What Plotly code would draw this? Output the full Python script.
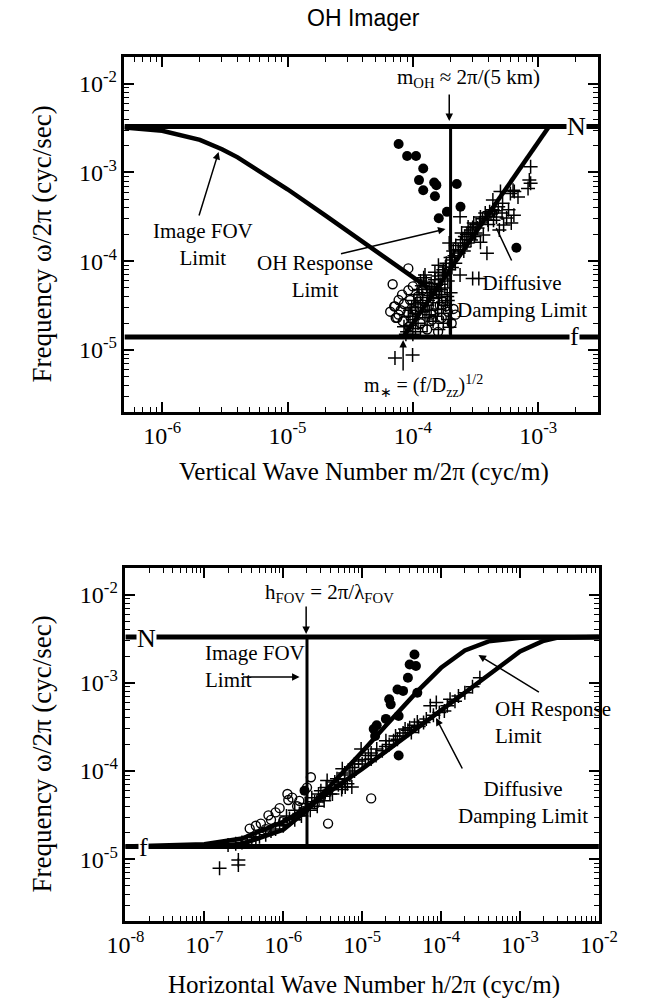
import math
import plotly.graph_objects as go

# ---------------- data ----------------
N_FREQ = 3.3e-3        # buoyancy frequency line  (cyc/s)
F_FREQ = 1.4e-5        # inertial frequency line   (cyc/s)
M_OH = 2.0e-4          # 2*pi/(5 km)
H_FOV = 2.0e-6         # 2*pi/lambda_FOV
M_STAR = 8.4e-5        # (f/Dzz)^1/2

TOP_X_RANGE = [5e-7, 3e-3]
BOT_X_RANGE = [1e-8, 1e-2]
Y_RANGE = [2e-6, 2e-2]

TOP_X_TICKS = [1e-6, 1e-5, 1e-4, 1e-3]
TOP_X_TICKTEXT = ["10<sup>-6</sup>", "10<sup>-5</sup>", "10<sup>-4</sup>", "10<sup>-3</sup>"]
BOT_X_TICKS = [1e-8, 1e-7, 1e-6, 1e-5, 1e-4, 1e-3, 1e-2]
BOT_X_TICKTEXT = ["10<sup>-8</sup>", "10<sup>-7</sup>", "10<sup>-6</sup>", "10<sup>-5</sup>",
                  "10<sup>-4</sup>", "10<sup>-3</sup>", "10<sup>-2</sup>"]
Y_TICKS = [1e-5, 1e-4, 1e-3, 1e-2]
Y_TICKTEXT = ["10<sup>-5</sup>", "10<sup>-4</sup>", "10<sup>-3</sup>", "10<sup>-2</sup>"]

# top panel: Image FOV limit curve
FOV_M = [5e-7, 1e-6, 2e-6, 3e-6, 4e-6, 6e-6, 1e-5, 2e-5, 3e-5, 5e-5, 8e-5, 1.3e-4]
FOV_W = [3.2e-3, 2.95e-3, 2.33e-3, 1.83e-3, 1.48e-3, 1.04e-3, 6.47e-4, 3.28e-4, 2.2e-4,
         1.32e-4, 8.25e-5, 5.1e-5]
# top panel: diffusive damping limit line
DIFF_M = [8.4e-5, 1.22e-3]
DIFF_W = [1.4e-5, 3.3e-3]

# top panel scatter
TOP_FILLED_M = [7.7e-5, 9.0e-5, 1.06e-4, 1.21e-4, 1.12e-4, 1.48e-4, 1.54e-4, 2.24e-4,
                1.21e-4, 1.50e-4, 2.4e-4, 1.87e-4, 1.61e-4, 6.7e-4]
TOP_FILLED_W = [2.09e-3, 1.53e-3, 1.53e-3, 1.11e-3, 8.2e-4, 7.7e-4, 7.2e-4, 7.4e-4,
                6.3e-4, 5.4e-4, 4.1e-4, 3.6e-4, 3.05e-4, 1.42e-4]

TOP_OPEN_M = [6.9e-5, 9.2e-5, 7.1e-5, 7.7e-5, 7.3e-5, 9.2e-5, 9.5e-5, 9.2e-5, 1.19e-4,
              1.50e-4, 1.64e-4, 1.83e-4, 1.34e-4, 1.03e-4, 1.59e-4, 2.04e-4, 2.19e-4,
              2.11e-4, 1.43e-4, 1.15e-4, 9.3e-5, 7.2e-5, 7.5e-5, 7.7e-5,
              8.0e-5, 8.5e-5, 8.2e-5, 1.0e-4, 1.1e-4, 1.25e-4, 1.4e-4, 1.7e-4, 1.9e-4,
              1.3e-4, 1.75e-4, 6.6e-5, 8.3e-5]
TOP_OPEN_W = [5.5e-5, 8.3e-5, 3.1e-5, 2.5e-5, 2.3e-5, 4.7e-5, 3.65e-5, 2.6e-5, 4.7e-5,
              4.35e-5, 3.2e-5, 3.1e-5, 3.1e-5, 2.8e-5, 1.6e-5, 2.0e-5, 2.5e-5,
              2.9e-5, 2.2e-5, 2.0e-5, 1.83e-5, 3.1e-5, 2.3e-5, 3.65e-5,
              2.8e-5, 3.3e-5, 4.2e-5, 5.2e-5, 4.0e-5, 3.0e-5, 2.5e-5, 2.3e-5, 2.7e-5,
              1.7e-5, 3.5e-5, 2.7e-5, 2.1e-5]

TOP_CROSS_M = [8.7e-4, 8.5e-4, 8.7e-4, 8.3e-4, 6.3e-4, 6.9e-4, 6.45e-4, 5.0e-4, 2.38e-4,
               3.9e-4, 3.0e-4, 3.36e-4, 2.38e-4, 2.18e-4, 1.95e-4, 2.45e-4, 2.76e-4,
               3.06e-4, 3.46e-4, 3.78e-4, 4.1e-4, 4.34e-4, 3.17e-4, 2.91e-4, 2.58e-4,
               2.32e-4, 2.06e-4, 1.82e-4, 1.73e-4, 1.95e-4, 3.28e-4, 3.65e-4, 3.97e-4,
               4.65e-4, 3.46e-4, 5.15e-4, 5.6e-4, 6.1e-4, 5.3e-4, 4.9e-4, 5.8e-4, 6.4e-4,
               4.8e-4, 5.2e-4, 4.35e-4, 6.0e-4,
               9.0e-5, 9.5e-5, 1.0e-4, 1.05e-4, 1.1e-4, 1.15e-4, 1.2e-4, 1.3e-4, 1.35e-4,
               1.4e-4, 1.5e-4, 1.6e-4, 1.65e-4, 1.55e-4, 1.45e-4, 1.3e-4, 1.2e-4, 1.1e-4,
               1.25e-4, 1.4e-4, 1.7e-4, 1.8e-4, 1.9e-4, 1.75e-4, 1.85e-4, 2.0e-4, 2.1e-4,
               1.6e-4, 1.5e-4, 1.0e-4, 1.05e-4, 8.8e-5, 1.15e-4, 1.25e-4, 2.2e-4, 2.5e-4,
               2.7e-4, 2.9e-4, 3.2e-4, 7.2e-5, 9.95e-5, 8.5e-5, 1.9e-4, 2.0e-4, 1.7e-4,
               1.6e-4,
               9.2e-5, 9.8e-5, 1.02e-4, 1.08e-4, 1.12e-4, 1.18e-4, 1.22e-4, 1.28e-4,
               1.32e-4, 1.38e-4, 1.42e-4, 1.48e-4, 1.52e-4, 1.58e-4, 1.62e-4, 1.68e-4,
               1.72e-4, 1.78e-4, 1.83e-4, 1.88e-4, 1.92e-4, 1.96e-4, 1.15e-4, 1.3e-4,
               1.45e-4, 1.6e-4, 1.75e-4, 1.35e-4, 1.05e-4, 9.5e-5, 2.05e-4, 2.15e-4,
               2.3e-4, 2.4e-4, 2.6e-4, 2.8e-4, 3.0e-4, 3.4e-4, 3.6e-4, 3.9e-4, 4.2e-4,
               4.5e-4, 4.0e-4, 4.4e-4, 3.1e-4, 2.7e-4, 2.55e-4]
TOP_CROSS_W = [1.16e-3, 8.2e-4, 7.55e-4, 6.6e-4, 6.3e-4, 5.3e-4, 6.1e-4, 6.1e-4, 3.18e-4,
               1.23e-4, 6.4e-5, 6.4e-5, 7.0e-5, 9.5e-5, 8.0e-5, 2.08e-4, 2.43e-4,
               2.7e-4, 3.15e-4, 3.5e-4, 3.6e-4, 3.8e-4, 2.08e-4, 1.73e-4, 1.45e-4,
               1.24e-4, 1.03e-4, 8.6e-5, 7.4e-5, 1.6e-4, 2.37e-4, 1.97e-4, 2.91e-4,
               3.15e-4, 1.64e-4, 3.5e-4, 3.07e-4, 2.7e-4, 2.56e-4, 2.25e-4, 3.8e-4, 3.3e-4,
               4.1e-4, 4.5e-4, 4.9e-4, 5.8e-4,
               1.6e-5, 1.9e-5, 2.2e-5, 2.6e-5, 3.0e-5, 3.4e-5, 3.9e-5, 4.4e-5, 5.0e-5,
               5.6e-5, 6.2e-5, 6.8e-5, 5.5e-5, 4.6e-5, 3.8e-5, 3.2e-5, 2.7e-5, 2.0e-5,
               2.3e-5, 2.8e-5, 4.2e-5, 5.0e-5, 6.0e-5, 8.0e-5, 9.5e-5, 1.1e-4, 1.3e-4,
               9.0e-5, 7.5e-5, 1.5e-5, 1.75e-5, 1.5e-5, 6.0e-5, 7.0e-5, 1.5e-4, 1.75e-4,
               2.0e-4, 2.25e-4, 2.6e-4, 8.1e-6, 8.8e-6, 1.83e-5, 3.6e-5, 4.4e-5, 2.6e-5,
               3.4e-5,
               2.4e-5, 3.0e-5, 3.6e-5, 4.2e-5, 4.8e-5, 5.3e-5, 6.5e-5, 5.8e-5,
               3.6e-5, 4.1e-5, 4.8e-5, 5.2e-5, 2.4e-5, 2.9e-5, 3.9e-5, 4.8e-5,
               6.3e-5, 7.0e-5, 3.2e-5, 4.0e-5, 2.2e-5, 1.8e-5, 1.6e-5, 1.9e-5,
               2.1e-5, 1.7e-5, 2.0e-5, 2.5e-5, 3.3e-5, 2.8e-5, 8.5e-5, 1.15e-4,
               1.35e-4, 1.6e-4, 1.9e-4, 2.1e-4, 2.4e-4, 2.7e-4, 3.0e-4, 3.2e-4, 3.4e-4,
               3.7e-4, 2.6e-4, 2.9e-4, 1.9e-4, 1.6e-4, 1.3e-4]

# bottom panel curves
OHR_H = [1e-8, 1e-7, 3e-7, 1e-6, 2e-6, 5e-6, 1e-5, 2e-5, 5e-5, 1e-4, 2e-4, 4e-4, 1e-3, 1e-2]
OHR_W = [1.4e-5, 1.41e-5, 1.49e-5, 2.16e-5, 3.58e-5, 8.4e-5, 1.65e-4, 3.28e-4, 8.0e-4,
         1.48e-3, 2.33e-3, 2.95e-3, 3.24e-3, 3.3e-3]
DDL_H = [1e-8, 1e-7, 3e-7, 1e-6, 2e-6, 5e-6, 1e-5, 2e-5, 5e-5, 1e-4, 2e-4, 5e-4, 1e-3,
         2e-3, 3e-3, 1e-2]
DDL_W = [1.4e-5, 1.48e-5, 1.72e-5, 2.66e-5, 3.85e-5, 6.75e-5, 1.06e-4, 1.67e-4, 3.07e-4,
         4.87e-4, 7.73e-4, 1.42e-3, 2.26e-3, 3.0e-3, 3.25e-3, 3.3e-3]

# bottom panel scatter
BOT_FILLED_H = [4.6e-5, 4.0e-5, 4.8e-5, 3.8e-5, 3.3e-5, 2.8e-5, 2.2e-5, 2.3e-5, 5.0e-5,
                2.9e-5, 2.0e-5, 1.53e-5, 2.9e-5, 1.46e-5, 1.4e-5, 1.86e-6]
BOT_FILLED_W = [2.09e-3, 1.61e-3, 1.55e-3, 1.14e-3, 8.1e-4, 8.4e-4, 6.5e-4, 5.7e-4, 7.7e-4,
                4.2e-4, 3.9e-4, 3.3e-4, 1.5e-4, 2.5e-4, 3.0e-4, 6.0e-5]
BOT_OPEN_H = [2.24e-6, 1.13e-6, 1.16e-6, 6.5e-7, 5.2e-7, 3.76e-7, 3.7e-6, 1.3e-5,
              1.5e-6, 8e-7, 1.0e-6, 2.5e-6, 1.8e-6, 3.0e-6,
              4.5e-7, 7e-7, 9e-7, 1.3e-6, 1.6e-6, 2e-6, 6e-7]
BOT_OPEN_W = [8.5e-5, 5.5e-5, 4.7e-5, 3.15e-5, 2.54e-5, 2.23e-5, 2.54e-5, 4.9e-5,
              4.0e-5, 3.4e-5, 2.7e-5, 4.2e-5, 3.5e-5, 5.0e-5,
              2.4e-5, 2.8e-5, 3.8e-5, 5.0e-5, 4.6e-5, 6.5e-5, 2.2e-5]
BOT_CROSS_H = [3.1e-4, 2.0e-4, 1.66e-4, 1.3e-4, 1.1e-4, 8.7e-5, 7.3e-5, 6.0e-5, 4.6e-5,
               3.5e-5, 2.65e-5, 2.0e-5, 1.53e-5, 1.3e-5, 4.2e-5, 5.6e-6, 6.1e-6, 7.4e-6,
               3.9e-6, 3.6e-6, 5.6e-6, 9.7e-6, 1.56e-7, 2.7e-7, 2.7e-7,
               1e-5, 8e-6, 7e-6, 6e-6, 5e-6, 4e-6, 3.2e-6, 2.5e-6, 2e-6, 1.6e-6, 1.2e-6,
               9e-7, 7e-7, 5e-7, 4e-7, 3e-7, 1.2e-5, 1.5e-5, 2e-5, 2.5e-5, 3e-5, 8e-6,
               6e-6, 4.5e-6, 3.5e-6, 2.8e-6,
               3.5e-7, 4.5e-7, 6e-7, 8e-7, 1.0e-6, 1.1e-6, 1.4e-6, 1.4e-6, 1.7e-6,
               1.9e-6, 2.2e-6, 2.3e-6, 2.7e-6, 3.0e-6, 3.3e-6, 4.2e-6, 4.8e-6, 5.5e-6,
               6.5e-6, 7.5e-6, 9e-6, 1.1e-5, 1.3e-5, 1.8e-5, 2.2e-5, 2.8e-5, 3.3e-5,
               3.8e-5, 5.2e-5, 6.5e-5, 8e-5, 9.5e-5, 1.2e-4, 1.5e-4, 2.5e-4, 5e-5, 4e-5,
               2.5e-7, 2e-7]
BOT_CROSS_W = [1.14e-3, 7.7e-4, 7.1e-4, 6.5e-4, 4.8e-4, 6.0e-4, 5.5e-4, 3.56e-4, 3.3e-4,
               3.0e-4, 2.5e-4, 2.2e-4, 1.78e-4, 1.37e-4, 2.74e-4, 6.6e-5, 6.6e-5, 6.6e-5,
               5.5e-5, 7.8e-5, 1.06e-4, 1.78e-4, 7.9e-6, 9.8e-6, 8.6e-6,
               1.2e-4, 1.0e-4, 9e-5, 8e-5, 7e-5, 6.2e-5, 5.2e-5, 4.5e-5, 3.8e-5, 3.3e-5,
               2.9e-5, 2.5e-5, 2.1e-5, 1.8e-5, 1.65e-5, 1.55e-5, 1.5e-4, 1.5e-4, 1.9e-4,
               2.2e-4, 2.5e-4, 1.2e-4, 9.5e-5, 7.5e-5, 6.5e-5, 5.5e-5,
               1.6e-5, 1.75e-5, 1.9e-5, 2.2e-5, 2.4e-5, 3.1e-5, 2.8e-5, 3.6e-5, 3.1e-5,
               4.3e-5, 3.6e-5, 5.0e-5, 4.0e-5, 6.0e-5, 4.6e-5, 5.5e-5, 8.2e-5, 6.2e-5,
               7.2e-5, 1.1e-4, 1.3e-4, 1.35e-4, 1.6e-4, 1.7e-4, 2.0e-4, 2.3e-4, 2.7e-4,
               2.9e-4, 3.2e-4, 3.9e-4, 4.3e-4, 4.6e-4, 5.5e-4, 6.2e-4, 9.0e-4, 3.6e-4, 3.1e-4,
               1.5e-5, 1.45e-5]

# ---------------- figure ----------------
W, H = 649, 998
SERIF = "Liberation Serif, Times New Roman, serif"
SANS = "Liberation Sans, Arial, sans-serif"


def P(px, py):
    return px / W, 1 - py / H


def lg(v):
    return math.log10(v)


fig = go.Figure()
BLACK = "black"


def line(x, y, xa, ya, width=4.5):
    fig.add_trace(go.Scatter(x=x, y=y, xaxis=xa, yaxis=ya, mode="lines",
                             line=dict(color=BLACK, width=width), hoverinfo="skip",
                             showlegend=False))


def pts(x, y, xa, ya, symbol, size, lw=1.3):
    fig.add_trace(go.Scatter(x=x, y=y, xaxis=xa, yaxis=ya, mode="markers",
                             marker=dict(symbol=symbol, size=size, color=BLACK,
                                         line=dict(color=BLACK, width=lw)),
                             hoverinfo="skip", showlegend=False))


# top panel
line(TOP_X_RANGE, [N_FREQ, N_FREQ], "x", "y", 5)
line(TOP_X_RANGE, [F_FREQ, F_FREQ], "x", "y", 5)
line(FOV_M, FOV_W, "x", "y", 4.5)
line(DIFF_M, DIFF_W, "x", "y", 4.5)
line([M_OH, M_OH], [F_FREQ, N_FREQ], "x", "y", 3)
pts(TOP_OPEN_M, TOP_OPEN_W, "x", "y", "circle-open", 9, 1.4)
pts(TOP_CROSS_M, TOP_CROSS_W, "x", "y", "cross-thin", 10, 1.5)
pts(TOP_FILLED_M, TOP_FILLED_W, "x", "y", "circle", 10, 0)

# bottom panel
line(BOT_X_RANGE, [N_FREQ, N_FREQ], "x2", "y2", 5)
line(BOT_X_RANGE, [F_FREQ, F_FREQ], "x2", "y2", 5)
line(OHR_H, OHR_W, "x2", "y2", 4.5)
line(DDL_H, DDL_W, "x2", "y2", 4.5)
line([H_FOV, H_FOV], [F_FREQ, N_FREQ], "x2", "y2", 3)
pts(BOT_OPEN_H, BOT_OPEN_W, "x2", "y2", "circle-open", 9, 1.4)
pts(BOT_CROSS_H, BOT_CROSS_W, "x2", "y2", "cross-thin", 10, 1.5)
pts(BOT_FILLED_H, BOT_FILLED_W, "x2", "y2", "circle", 10, 0)

axis_common = dict(type="log", showgrid=False, zeroline=False, showline=True,
                   linecolor=BLACK, linewidth=2.5, mirror="allticks", ticks="inside",
                   ticklen=10, tickwidth=1.5, tickcolor=BLACK,
                   tickfont=dict(family=SERIF, size=24, color=BLACK),
                   minor=dict(ticks="inside", ticklen=5, tickwidth=1, tickcolor=BLACK,
                              dtick="D1", showgrid=False))

fig.update_layout(
    width=W, height=H, autosize=False,
    margin=dict(l=0, r=0, t=0, b=0),
    paper_bgcolor="white", plot_bgcolor="white",
    showlegend=False,
    xaxis=dict(axis_common, domain=[112 / W, 615 / W], anchor="y",
               range=[lg(TOP_X_RANGE[0]), lg(TOP_X_RANGE[1])],
               tickmode="array", tickvals=TOP_X_TICKS, ticktext=TOP_X_TICKTEXT),
    yaxis=dict(axis_common, domain=[1 - 412 / H, 1 - 57 / H], anchor="x",
               range=[lg(Y_RANGE[0]), lg(Y_RANGE[1])],
               tickmode="array", tickvals=Y_TICKS, ticktext=Y_TICKTEXT),
    xaxis2=dict(axis_common, domain=[113 / W, 616 / W], anchor="y2",
                range=[lg(BOT_X_RANGE[0]), lg(BOT_X_RANGE[1])],
                tickmode="array", tickvals=BOT_X_TICKS, ticktext=BOT_X_TICKTEXT),
    yaxis2=dict(axis_common, domain=[1 - 921 / H, 1 - 568 / H], anchor="x2",
                range=[lg(Y_RANGE[0]), lg(Y_RANGE[1])],
                tickmode="array", tickvals=Y_TICKS, ticktext=Y_TICKTEXT),
)

ann = []


def text(px, py, t, size=21, family=SERIF, xanchor="center", bg=None, align="center",
         angle=0):
    x, y = P(px, py)
    d = dict(x=x, y=y, xref="paper", yref="paper", text=t, showarrow=False,
             xanchor=xanchor, yanchor="middle", align=align, textangle=angle,
             font=dict(family=family, size=size, color=BLACK))
    if bg:
        d["bgcolor"] = bg
        d["borderpad"] = 0
    ann.append(d)


def arrow(tip_px, tip_py, tail_px, tail_py, head=2, width=1.5):
    x, y = P(tip_px, tip_py)
    ann.append(dict(x=x, y=y, xref="paper", yref="paper", text="", showarrow=True,
                    ax=tail_px - tip_px, ay=tail_py - tip_py, arrowhead=head,
                    arrowsize=1, arrowwidth=width, arrowcolor=BLACK))


# titles
text(366, 18, "OH Imager", size=23, family=SANS)
text(24, 244, "Frequency ω/2π (cyc/sec)", size=27, angle=-90)
text(24, 754, "Frequency ω/2π (cyc/sec)", size=27, angle=-90)
text(366, 472, "Vertical Wave Number m/2π (cyc/m)", size=25)
text(366, 985, "Horizontal Wave Number h/2π (cyc/m)", size=25)

# top panel labels
text(592, 126, "N", size=26, bg="white")
text(590, 337, "f", size=26, bg="white")
text(477, 78, "m<sub>OH</sub> ≈ 2π/(5 km)", size=21)
arrow(457, 121, 457, 93)
text(195, 245, "Image FOV<br>Limit", size=21)
arrow(212, 152, 192, 217)
text(314, 276, "OH Response<br>Limit", size=21)
arrow(453, 229, 347, 254)
text(534, 296, "Diffusive<br>Damping Limit", size=21)
arrow(507, 228, 523, 262, head=0)
text(430, 386, "m<sub>∗</sub> = (f/D<sub>zz</sub>)<sup>1/2</sup>", size=20)
arrow(408, 340, 408, 372)

# bottom panel labels
text(135, 638, "N", size=26, bg="white")
text(132, 847, "f", size=26, bg="white")
text(330, 593, "h<sub>FOV</sub> = 2π/λ<sub>FOV</sub>", size=21)
arrow(305, 634, 305, 605)
text(195, 666, "Image FOV<br>Limit", size=21, xanchor="left", align="left")
arrow(298, 677, 240, 677)
text(503, 722, "OH Response<br>Limit", size=21, xanchor="left", align="left")
arrow(488, 655, 550, 693)
text(535, 802, "Diffusive<br>Damping Limit", size=21)
arrow(443, 718, 470, 770)

fig.update_layout(annotations=ann)
fig.write_html("out.html")
